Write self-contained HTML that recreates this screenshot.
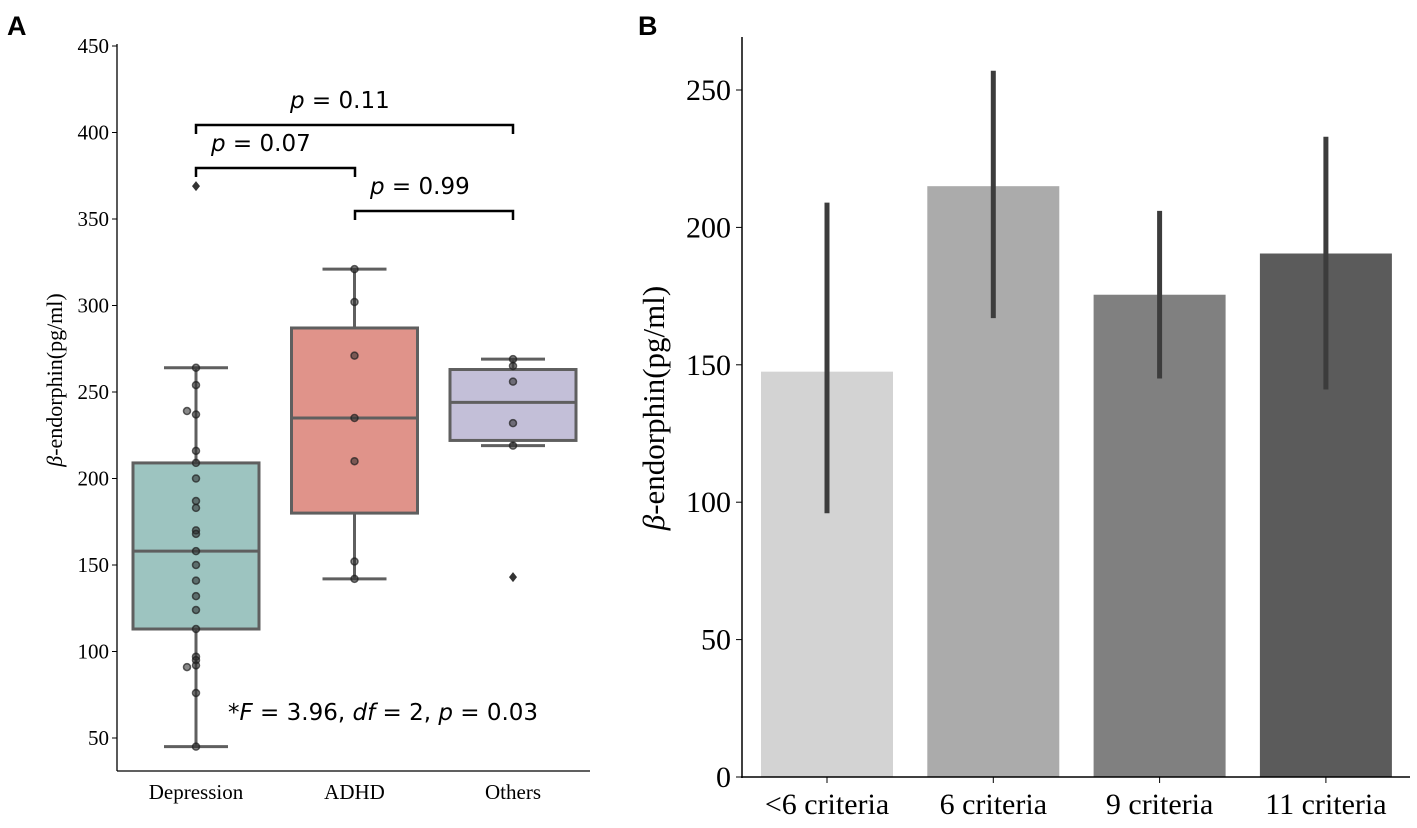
<!DOCTYPE html>
<html><head><meta charset="utf-8"><style>
body{margin:0;background:#fff;}
svg text{font-family:"Liberation Serif",serif;}
svg text.dv{font-family:"DejaVu Sans",sans-serif;}
svg text.lbl{font-family:"Liberation Sans",sans-serif;font-weight:bold;}
</style></head><body>
<svg width="1417" height="823" xmlns="http://www.w3.org/2000/svg">
<g id="A"></g>
<g id="B"></g>
</svg>
<script>
const groupsA=["Depression","ADHD","Others"];
const colorsA=["#9dc4c0","#e0938a","#c3bfd8"];
const whiskLo=[45,142,219];
const q1=[113,180,222];
const med=[158,235,244];
const q3=[209,287,263];
const whiskHi=[264,321,269];
const outliers=[[369],[],[143]];
const points=[[264,254,237,239,216,209,200,187,183,170,168,158,150,141,132,124,113,97,95,92,91,76,45],[321,302,271,235,210,152,142],[269,265,256,232,219]];
const ticksA=[50,100,150,200,250,300,350,400,450];
const catsB=["<6 criteria","6 criteria","9 criteria","11 criteria"];
const meansB=[147.5,215,175.5,190.5];
const errLo=[96,167,145,141];
const errHi=[209,257,206,233];
const colorsB=["#d3d3d3","#ababab","#808080","#5b5b5b"];
const ticksB=[0,50,100,150,200,250];

const NS="http://www.w3.org/2000/svg";
function mk(p,t,a,txt){const e=document.createElementNS(NS,t);for(const k in a)e.setAttribute(k,a[k]);if(txt!==undefined)e.textContent=txt;p.appendChild(e);return e;}
const A=document.getElementById('A'),B=document.getElementById('B');
const yA=v=>46+(450-v)*1.73;
const xA=i=>196+i*158.5;
let t=mk(A,'text',{x:7,y:35,'font-size':27,class:'lbl'},'A');


let ax=mk(A,'line',{x1:117,y1:44,x2:117,y2:771,stroke:'#000','stroke-width':1.3});


let bx=mk(A,'line',{x1:117,y1:771,x2:590,y2:771,stroke:'#000','stroke-width':1.3});


ticksA.forEach(v=>{
 mk(A,'line',{x1:112,y1:yA(v),x2:117,y2:yA(v),stroke:'#000'});
 const tl=mk(A,'text',{x:109,y:yA(v)+7,'font-size':21,'text-anchor':'end'},v);
 
 
});
let yt=mk(A,'text',{transform:'translate(62,380) rotate(-90)','font-size':22,'text-anchor':'middle'});
yt.innerHTML='<tspan font-style="italic">β</tspan>-endorphin(pg/ml)';


groupsA.forEach((g,i)=>{
 const cx=xA(i);
 const tl=mk(A,'text',{x:cx,y:799,'font-size':21,'text-anchor':'middle'},g);
 
 
 mk(A,'line',{x1:cx,y1:yA(whiskLo[i]),x2:cx,y2:yA(q1[i]),stroke:'#5f5f5f','stroke-width':3});
 mk(A,'line',{x1:cx,y1:yA(q3[i]),x2:cx,y2:yA(whiskHi[i]),stroke:'#5f5f5f','stroke-width':3});
 mk(A,'line',{x1:cx-32,y1:yA(whiskLo[i]),x2:cx+32,y2:yA(whiskLo[i]),stroke:'#5f5f5f','stroke-width':3});
 mk(A,'line',{x1:cx-32,y1:yA(whiskHi[i]),x2:cx+32,y2:yA(whiskHi[i]),stroke:'#5f5f5f','stroke-width':3});
 const r=mk(A,'rect',{x:cx-63,y:yA(q3[i]),width:126,height:yA(q1[i])-yA(q3[i]),fill:colorsA[i],stroke:'#5f5f5f','stroke-width':3});
 
 
 mk(A,'line',{x1:cx-63,y1:yA(med[i]),x2:cx+63,y2:yA(med[i]),stroke:'#5f5f5f','stroke-width':3});
 outliers[i].forEach(v=>{
  const o=mk(A,'path',{d:`M${cx} ${yA(v)-5}L${cx+4} ${yA(v)}L${cx} ${yA(v)+5}L${cx-4} ${yA(v)}Z`,fill:'#333'});
  
  
 });
 const seen={};
 points[i].forEach(v=>{
  const k=Math.round(yA(v)/6);seen[k]=(seen[k]||0)+1;
  const dx=seen[k]>1?-9:0;
  const c=mk(A,'circle',{cx:cx+dx,cy:yA(v),r:3.5,fill:'rgba(40,40,40,0.55)',stroke:'rgba(30,30,30,0.7)','stroke-width':1.5});
  
  
 });
});
function bracket(x1,x2,y,label,lx){
 mk(A,'path',{d:`M${x1} ${y+9}V${y}H${x2}V${y+9}`,fill:'none',stroke:'#000','stroke-width':2.5});
 const tt=mk(A,'text',{x:lx,y:y-17,'font-size':23,class:'dv'});
 tt.innerHTML='<tspan font-style="italic">p</tspan> = '+label;
 
 
}
bracket(196,513,125,'0.11',290);
bracket(196,355,168,'0.07',211);
bracket(355,513,211,'0.99',370);
let ft=mk(A,'text',{x:228,y:720,'font-size':23,class:'dv'});
ft.innerHTML='*<tspan font-style="italic">F</tspan> = 3.96, <tspan font-style="italic">df</tspan> = 2, <tspan font-style="italic">p</tspan> = 0.03';



// Panel B
const yB=v=>777-v*2.748;
const xB=i=>761+i*166.3;
let tb=mk(B,'text',{x:638,y:35,'font-size':27,class:'lbl'},'B');


catsB.forEach((c,i)=>{
 const r=mk(B,'rect',{x:xB(i),y:yB(meansB[i]),width:132,height:yB(0)-yB(meansB[i]),fill:colorsB[i]});
 
 
 const e=mk(B,'line',{x1:xB(i)+66,y1:yB(errLo[i]),x2:xB(i)+66,y2:yB(errHi[i]),stroke:'#3c3c3c','stroke-width':5});
 
 
 mk(B,'line',{x1:xB(i)+66,y1:777,x2:xB(i)+66,y2:783,stroke:'#000'});
 const tl=mk(B,'text',{x:xB(i)+66,y:814,'font-size':30,'text-anchor':'middle'},c);
 
 
});
let ayb=mk(B,'line',{x1:742,y1:37,x2:742,y2:778,stroke:'#000','stroke-width':1.5});


let axb=mk(B,'line',{x1:741,y1:777,x2:1410,y2:777,stroke:'#000','stroke-width':1.5});


ticksB.forEach(v=>{
 mk(B,'line',{x1:736,y1:yB(v),x2:742,y2:yB(v),stroke:'#000'});
 const tl=mk(B,'text',{x:731,y:yB(v)+10,'font-size':30,'text-anchor':'end'},v);
 
 
});
let ytb=mk(B,'text',{transform:'translate(664,408) rotate(-90)','font-size':31,'text-anchor':'middle'});
ytb.innerHTML='<tspan font-style="italic">β</tspan>-endorphin(pg/ml)';


</script>
</body></html>
